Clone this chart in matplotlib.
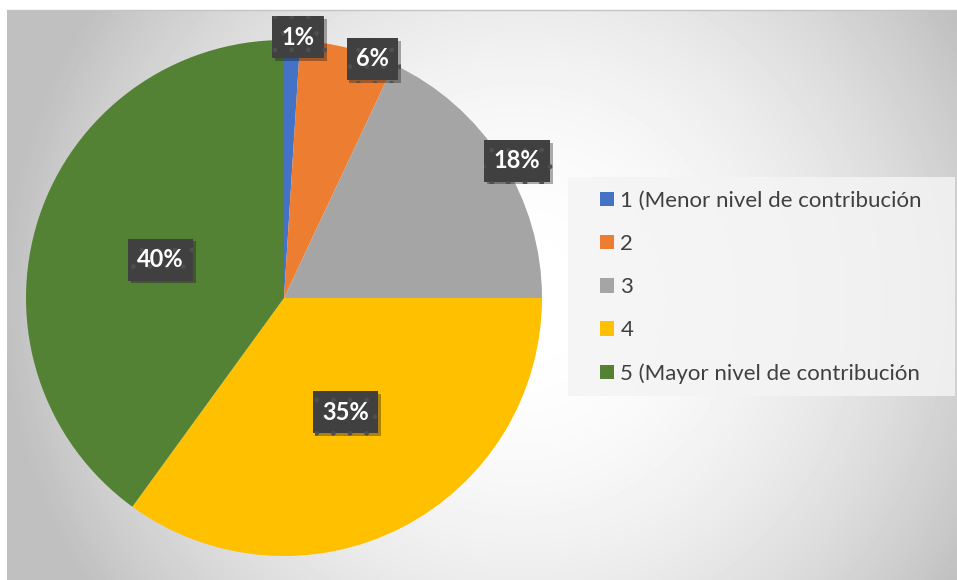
import matplotlib.pyplot as plt
import matplotlib.patheffects as pe
from matplotlib.patches import Rectangle
import numpy as np

plt.rcParams['font.family'] = ['Lato', 'DejaVu Sans']

# datos
categorias = ['1 (Menor nivel de contribución', '2', '3', '4',
              '5 (Mayor nivel de contribución']
porcentajes = [1, 6, 18, 35, 40]
colores = ['#4472C4', '#ED7D31', '#A5A5A5', '#FFC000', '#548235']

W, H = 957, 580
fig = plt.figure(figsize=(W / 100, H / 100), dpi=100)

# fondo con degradado radial
bg = fig.add_axes([7 / W, 0, 950 / W, 570 / H])
xx, yy = np.meshgrid(np.arange(950), np.arange(570))
d = np.sqrt((xx - 513) ** 2 + (yy - 290) ** 2) / 520
g = 1 - 0.25 * np.clip(d, 0, 1) ** 2
bg.imshow(g, cmap='gray', vmin=0, vmax=1, aspect='auto', interpolation='bilinear')
bg.axis('off')
fig.add_artist(plt.Line2D([7 / W, 1], [1 - 10 / H, 1 - 10 / H], color='#c4c4c4', lw=1))

# pastel
cx, cy, R = 284, 298, 258
ax = fig.add_axes([(cx - R) / W, (H - cy - R) / H, 2 * R / W, 2 * R / H])
wedges, _ = ax.pie(porcentajes, colors=colores, startangle=90, counterclock=False,
                   radius=1, wedgeprops=dict(linewidth=0))
ax.set_xlim(-1, 1)
ax.set_ylim(-1, 1)
ax.set_aspect('equal')
ax.axis('off')

# etiquetas de datos (radio y desplazamiento angular tipo "ajuste óptimo")
label_r = [1.013, 0.988, 1.048, 0.502, 0.501]
label_da = [-1.3, -5.9, -1.9, 1.3, 0.7]
for w, v, r, da in zip(wedges, porcentajes, label_r, label_da):
    ang = np.deg2rad((w.theta1 + w.theta2) / 2 + da)
    t = ax.text(r * np.cos(ang), r * np.sin(ang), f'{v}%', ha='center', va='center',
                color='white', fontsize=17, fontweight='bold',
                bbox=dict(boxstyle='square,pad=0.4', facecolor='#404040',
                          edgecolor='#4f4f4f', hatch='.', linewidth=0))
    t.get_bbox_patch().set_path_effects([pe.SimplePatchShadow(offset=(2, -2), alpha=0.35),
                                         pe.Normal()])

# leyenda
fig.add_artist(Rectangle((568 / W, 1 - 396 / H), 387 / W, 219 / H,
                         transform=fig.transFigure, facecolor='#f4f4f4',
                         edgecolor='none', alpha=0.85))
leg = fig.legend(wedges, categorias, loc='upper left',
                 bbox_to_anchor=(600 / W, 1 - 191 / H), frameon=False,
                 fontsize=16, handlelength=0.62, handleheight=0.62,
                 handletextpad=0.3, labelspacing=1.04, borderpad=0, borderaxespad=0)
for txt in leg.get_texts():
    txt.set_color('#404040')

fig.savefig('out.png', dpi=100)
